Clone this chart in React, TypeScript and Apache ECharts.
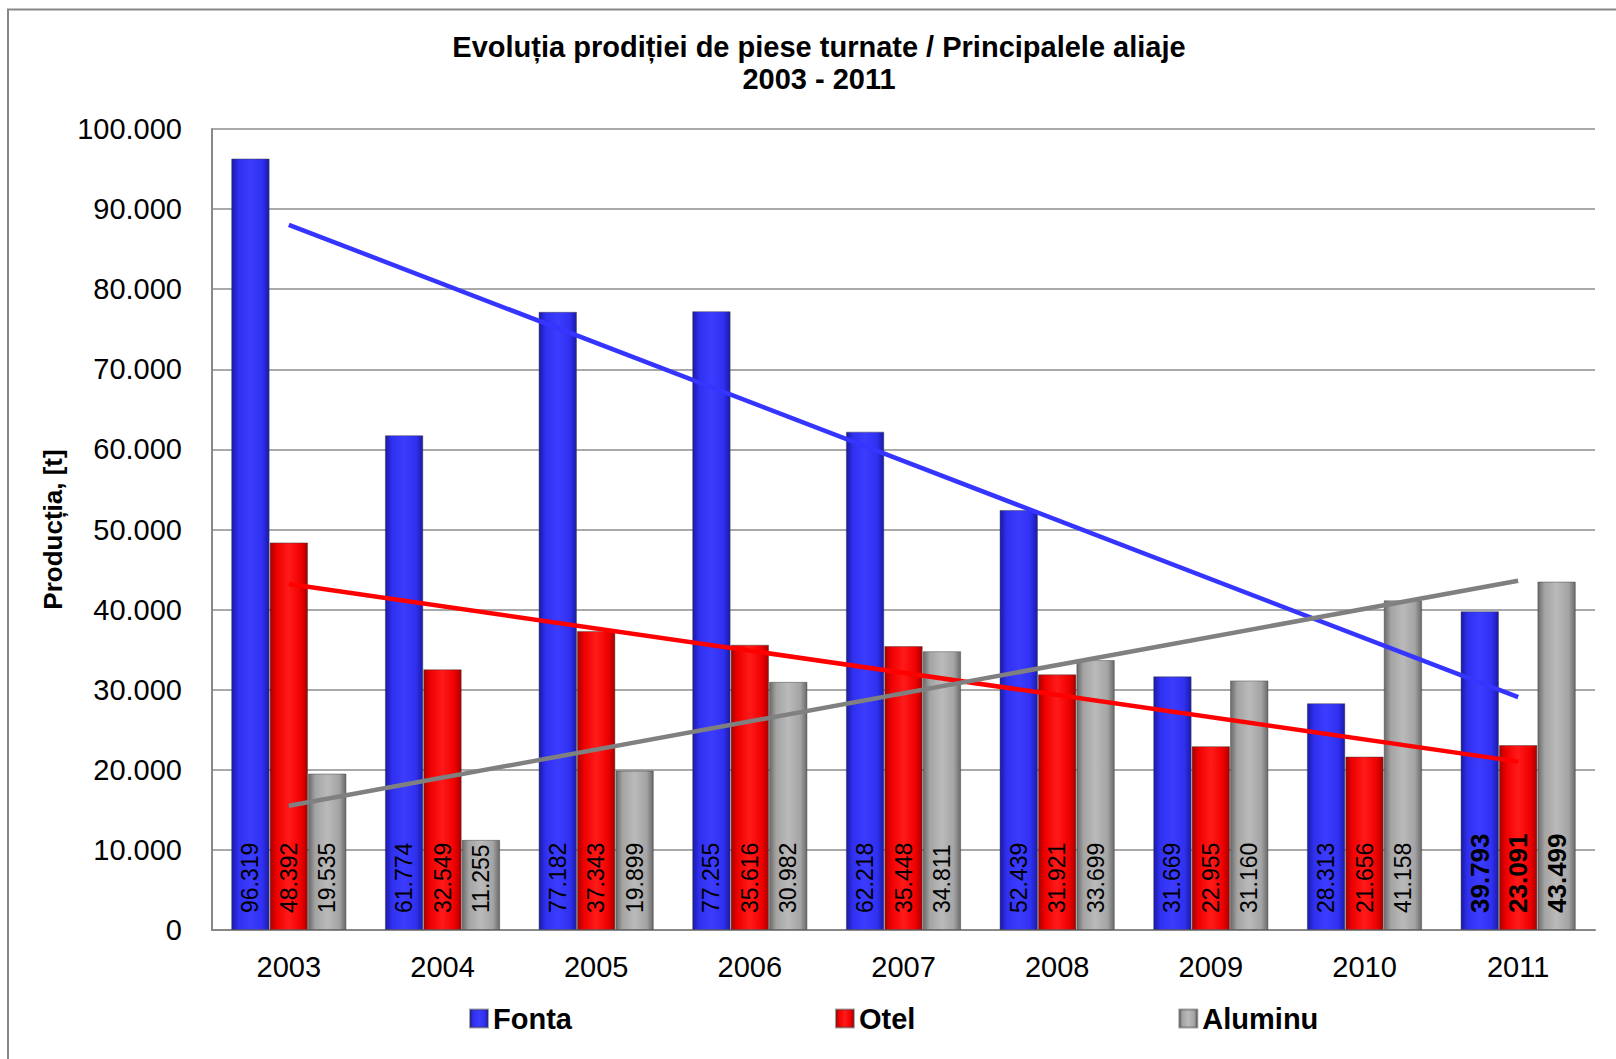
import React, { useEffect, useRef } from 'react';
import * as echarts from 'echarts';

const years = ['2003', '2004', '2005', '2006', '2007', '2008', '2009', '2010', '2011'];
const fonta = [96319, 61774, 77182, 77255, 62218, 52439, 31669, 28313, 39793];
const otel = [48392, 32549, 37343, 35616, 35448, 31921, 22955, 21656, 23091];
const aluminu = [19535, 11255, 19899, 30982, 34811, 33699, 31160, 41158, 43499];
const trendYears = ['2003', '2011'];
const fontaTrend = [88040, 29063];
const otelTrend = [43198, 21018];
const aluminuTrend = [15502, 43609];
const seriesNames = ['Fonta', 'Otel', 'Aluminu'];
const titleText = 'Evoluția prodiției de piese turnate / Principalele aliaje\n2003 - 2011';
const yAxisName = 'Producția, [t]';

const FONT = '"Liberation Sans", Arial, sans-serif';

const fmt = (v: number) =>
  v === 0 ? '0' : Math.floor(v / 1000) + '.' + String(Math.round(v % 1000)).padStart(3, '0');

const grad = (dark: string, mid: string, bright: string) =>
  new echarts.graphic.LinearGradient(0, 0, 1, 0, [
    { offset: 0, color: dark },
    { offset: 0.18, color: mid },
    { offset: 0.5, color: bright },
    { offset: 0.82, color: mid },
    { offset: 1, color: dark },
  ]);

export default function App() {
  const ref = useRef<HTMLDivElement>(null);
  useEffect(() => {
    document.body.style.margin = '0';
    const chart = echarts.init(ref.current!, null, { renderer: 'svg' });
    const barColors = [
      grad('#1a1aa8', '#3030f0', '#3c3cff'),
      grad('#a80000', '#f00000', '#ff1a1a'),
      grad('#6a6a6a', '#a4a4a4', '#bababa'),
    ];
    const lineColors = ['#3535ff', '#ff0000', '#808080'];
    const barData = [fonta, otel, aluminu];
    const trends = [fontaTrend, otelTrend, aluminuTrend];

    const bars = barData.map((arr, si) => ({
      name: seriesNames[si],
      type: 'bar',
      barGap: '0%',
      barCategoryGap: '25%',
      itemStyle: { color: barColors[si], borderColor: 'rgba(60,60,60,0.45)', borderWidth: 1 },
      label: {
        show: true,
        position: 'insideBottom',
        distance: 17,
        rotate: 90,
        align: 'left',
        verticalAlign: 'middle',
        fontSize: 23,
        fontFamily: FONT,
        color: '#000',
        formatter: (p: any) => fmt(p.value),
      },
      data: arr.map((v, i) =>
        i === arr.length - 1
          ? { value: v, label: { fontWeight: 'bold', fontSize: 26 } }
          : v
      ),
      z: 2,
    }));

    const lines = trends.map((t, si) => ({
      name: seriesNames[si] + ' trend',
      type: 'line',
      symbol: 'none',
      silent: true,
      lineStyle: { color: lineColors[si], width: 4.5 },
      data: t.map((v, i) => [trendYears[i], v]),
      z: 5,
    }));

    chart.setOption({
      animation: false,
      backgroundColor: '#fff',
      title: {
        text: titleText,
        left: 814,
        top: 26,
        textAlign: 'center',
        textStyle: { fontFamily: FONT, fontSize: 29, fontWeight: 'bold', color: '#000', lineHeight: 32 },
      },
      graphic: [
        {
          type: 'rect',
          shape: { x: 8, y: 9.5, width: 1800, height: 1200 },
          style: { fill: 'none', stroke: '#888', lineWidth: 2 },
          silent: true,
        },
      ],
      legend: {
        data: seriesNames,
        left: 464,
        top: 999,
        itemWidth: 18,
        itemHeight: 18,
        itemGap: 263,
        icon: 'rect',
        textStyle: { fontFamily: FONT, fontSize: 29, fontWeight: 'bold', color: '#000' },
      },
      grid: { left: 212, right: 21, top: 129, bottom: 129, containLabel: false },
      xAxis: {
        type: 'category',
        data: years,
        axisLine: { lineStyle: { color: '#888', width: 2 } },
        axisTick: { show: false },
        axisLabel: { fontFamily: FONT, fontSize: 29, color: '#000', margin: 22 },
      },
      yAxis: {
        type: 'value',
        min: 0,
        max: 100000,
        interval: 10000,
        name: yAxisName,
        nameLocation: 'middle',
        nameRotate: 90,
        nameGap: 140,
        nameTextStyle: { fontFamily: FONT, fontSize: 26, fontWeight: 'bold', color: '#000' },
        axisLine: { show: true, lineStyle: { color: '#888', width: 2 } },
        axisTick: { show: false },
        splitLine: { lineStyle: { color: '#8c8c8c', width: 1.5 } },
        axisLabel: { fontFamily: FONT, fontSize: 29, color: '#000', margin: 30, formatter: (v: number) => fmt(v) },
      },
      series: [...bars, ...lines],
    });
    return () => chart.dispose();
  }, []);
  return <div ref={ref} style={{ width: 1616, height: 1059 }} />;
}
